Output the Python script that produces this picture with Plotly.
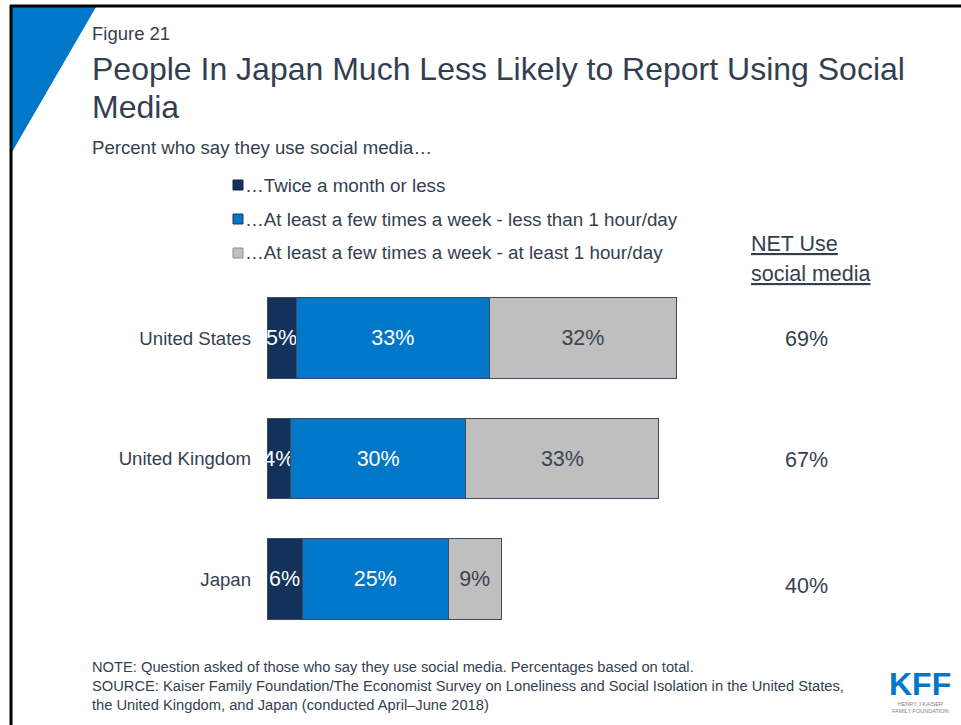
import plotly.graph_objects as go

# ---- data ----
categories = ["United States", "United Kingdom", "Japan"]
series_names = [
    "…Twice a month or less",
    "…At least a few times a week - less than 1 hour/day",
    "…At least a few times a week - at least 1 hour/day",
]
twice_month = [5, 4, 6]
less_1h = [33, 30, 25]
atleast_1h = [32, 33, 9]
net_use = [69, 67, 40]

# ---- styling helpers ----
W, H = 961, 725


def px(x):
    return x / W


def py(y):
    return 1 - y / H


FONT = "Liberation Sans, Arial, sans-serif"
TXT = "#333F50"
colors = ["#13325B", "#0077C8", "#BFBFBF"]
text_colors = ["white", "white", "#3B4452"]
legend_borders = ["#0E2442", "#1F3864", "#8C8C8C"]

fig = go.Figure()
for name, vals, c, tc in zip(series_names, [twice_month, less_1h, atleast_1h], colors, text_colors):
    fig.add_trace(go.Bar(
        y=categories, x=vals, name=name, orientation="h",
        marker=dict(color=c, line=dict(color="#3F4B5B", width=1)),
        text=[f"{v}%" for v in vals], textposition="inside",
        insidetextanchor="middle", textangle=0, constraintext="none",
        textfont=dict(size=21.5, color=tc, family=FONT),
        cliponaxis=False, hoverinfo="skip", showlegend=False,
    ))

x0_px, scale = 267, 5.85
fig.update_layout(
    width=W, height=H, autosize=False,
    margin=dict(l=0, r=0, t=0, b=0),
    paper_bgcolor="white", plot_bgcolor="white",
    barmode="stack", bargap=0.328,
    font=dict(family=FONT, color=TXT),
    xaxis=dict(domain=[px(x0_px), px(x0_px + 80 * scale)], range=[0, 80],
               visible=False, fixedrange=True),
    yaxis=dict(domain=[py(639.25), py(277.75)], type="category",
               categoryorder="array", categoryarray=categories,
               range=[2.5, -0.5], showgrid=False, zeroline=False, showline=False,
               ticks="", ticklabelstandoff=15,
               tickfont=dict(size=18.6, color=TXT, family=FONT)),
)

ann = []


def text(x, y, s, size, color=TXT, xanchor="left", **kw):
    ann.append(dict(x=px(x), y=py(y), xref="paper", yref="paper", text=s,
                    showarrow=False, xanchor=xanchor, yanchor="middle",
                    font=dict(size=size, color=color, family=FONT), **kw))


text(90, 33, "Figure 21", 18.5)
text(90, 69, "People In Japan Much Less Likely to Report Using Social", 32)
text(90, 107, "Media", 32)
text(90, 147, "Percent who say they use social media…", 18.6)

# legend (manual)
shapes = []
for i, (name, c, bc) in enumerate(zip(series_names, colors, legend_borders)):
    yc = 185 + 34 * i
    shapes.append(dict(type="rect", xref="paper", yref="paper",
                       x0=px(233), x1=px(243), y0=py(yc + 5), y1=py(yc - 5),
                       fillcolor=c, line=dict(color=bc, width=1)))
    text(243, yc, name, 18.8)

# NET column
text(749, 244, "<u>NET Use</u>", 21.5)
text(749, 274, "<u>social media</u>", 21.5)
net_shift = [-1, -1, -7]
for cat, v, s in zip(categories, net_use, net_shift):
    ann.append(dict(x=px(806), y=cat, xref="paper", yref="y", text=f"{v}%",
                    showarrow=False, xanchor="center", yanchor="middle", yshift=s,
                    font=dict(size=21.5, color=TXT, family=FONT)))

# notes
text(90, 667, "NOTE: Question asked of those who say they use social media. Percentages based on total.", 14.7)
text(90, 686, "SOURCE: Kaiser Family Foundation/The Economist Survey on Loneliness and Social Isolation in the United States,", 14.7)
text(90, 705, "the United Kingdom, and Japan (conducted April–June 2018)", 14.7)

# logo
text(920, 684, "<b>KFF</b>", 32, color="#0077C8", xanchor="center")
text(920, 707, "HENRY J KAISER<br>FAMILY FOUNDATION", 5.5, color="#7F7F7F", xanchor="center")

# frame and corner triangle
shapes.append(dict(type="path", xref="paper", yref="paper",
                   path=f"M {px(12)} {py(7)} L {px(96)} {py(7)} L {px(12)} {py(152)} Z",
                   fillcolor="#0077C8", line=dict(width=0)))
shapes.append(dict(type="line", xref="paper", yref="paper",
                   x0=px(10), x1=1, y0=py(6), y1=py(6), line=dict(color="black", width=3)))
shapes.append(dict(type="line", xref="paper", yref="paper",
                   x0=px(11), x1=px(11), y0=py(5), y1=0, line=dict(color="black", width=3)))

fig.update_layout(annotations=ann, shapes=shapes)
fig.write_html("out.html", config={"displayModeBar": False},
               post_script="document.body.style.margin='0';document.body.style.overflow='hidden';")
